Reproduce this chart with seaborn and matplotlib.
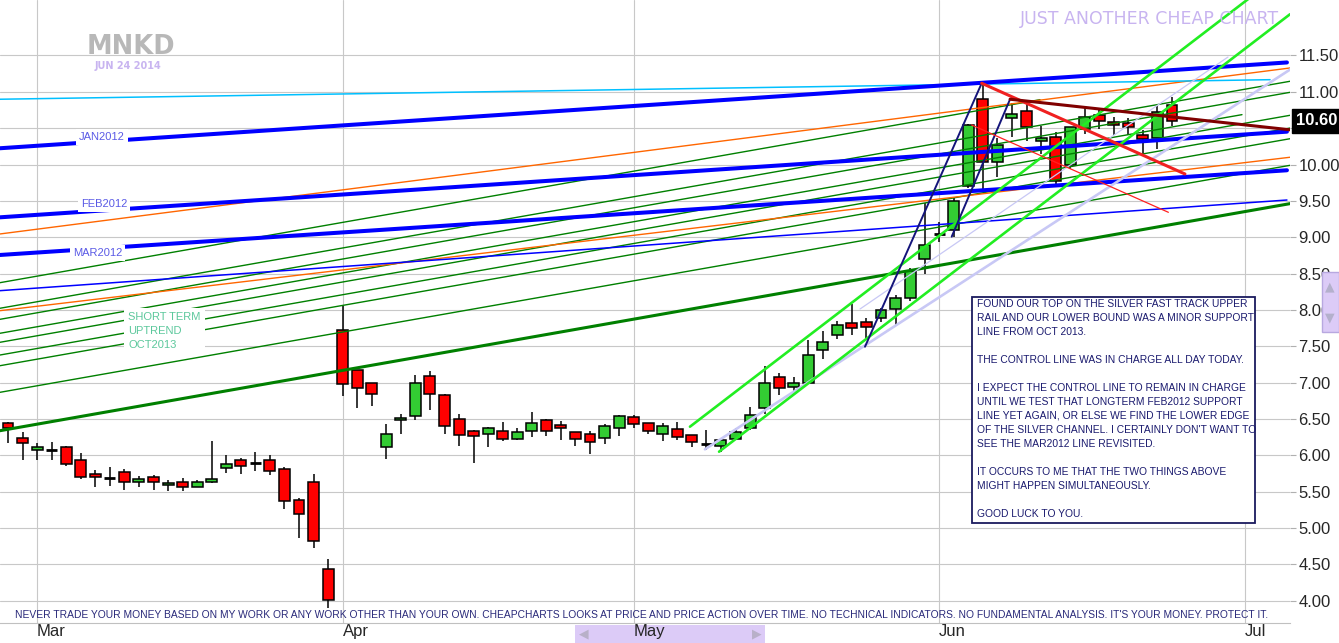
import numpy as np
import matplotlib
matplotlib.use('Agg')
import matplotlib.pyplot as plt
import seaborn as sns
from matplotlib.patches import Rectangle

# MNKD daily candles, trading days 27 Feb 2014 .. 24 Jun 2014 (index 0..80)
opens = [6.44, 6.24, 6.08, 6.08, 6.11, 5.93, 5.75, 5.69, 5.77, 5.64,
         5.70, 5.59, 5.64, 5.57, 5.64, 5.82, 5.93, 5.90, 5.93, 5.81,
         5.38, 5.63, 4.43, 7.73, 7.18, 6.99, 6.11, 6.49, 6.54, 7.09,
         6.83, 6.50, 6.33, 6.29, 6.33, 6.23, 6.33, 6.48, 6.42, 6.32,
         6.29, 6.24, 6.37, 6.53, 6.45, 6.30, 6.36, 6.28, 6.16, 6.13,
         6.23, 6.37, 6.65, 7.08, 6.94, 7.00, 7.45, 7.66, 7.82, 7.84,
         7.89, 8.01, 8.16, 8.70, 9.04, 9.10, 9.70, 10.90, 10.04, 10.64,
         10.73, 10.33, 10.38, 10.00, 10.49, 10.68, 10.58, 10.57, 10.40, 10.36,
         10.82]
highs = [6.46, 6.32, 6.17, 6.18, 6.13, 6.03, 5.80, 5.84, 5.81, 5.72,
         5.73, 5.66, 5.69, 5.66, 6.20, 6.01, 5.96, 6.05, 6.00, 5.84,
         5.42, 5.74, 4.58, 8.06, 7.18, 7.00, 6.43, 6.57, 7.10, 7.16,
         6.85, 6.57, 6.35, 6.39, 6.46, 6.38, 6.60, 6.50, 6.47, 6.32,
         6.33, 6.43, 6.56, 6.56, 6.45, 6.44, 6.46, 6.28, 6.35, 6.23,
         6.37, 6.66, 7.23, 7.13, 7.08, 7.58, 7.71, 7.85, 8.08, 7.89,
         8.03, 8.20, 8.58, 9.47, 9.21, 9.54, 10.56, 11.12, 10.36, 10.84,
         10.84, 10.53, 10.45, 10.51, 10.79, 10.75, 10.66, 10.64, 10.47, 10.80,
         10.93]
lows = [6.17, 5.93, 5.93, 5.94, 5.86, 5.67, 5.57, 5.58, 5.53, 5.56,
        5.53, 5.51, 5.51, 5.56, 5.62, 5.76, 5.75, 5.79, 5.73, 5.26,
        4.86, 4.73, 3.90, 6.82, 6.65, 6.68, 5.95, 6.29, 6.49, 6.62,
        6.30, 6.13, 5.90, 6.11, 6.20, 6.21, 6.25, 6.27, 6.21, 6.13,
        6.02, 6.15, 6.26, 6.37, 6.29, 6.20, 6.21, 6.11, 6.07, 6.05,
        6.21, 6.35, 6.57, 6.83, 6.88, 7.00, 7.32, 7.60, 7.66, 7.62,
        7.83, 7.78, 8.12, 8.50, 8.93, 9.01, 9.68, 9.67, 9.83, 10.38,
        10.33, 10.15, 9.72, 9.94, 10.42, 10.49, 10.41, 10.41, 10.15, 10.22,
        10.53]
closes = [6.37, 6.17, 6.12, 6.08, 5.88, 5.70, 5.70, 5.69, 5.64, 5.68,
          5.64, 5.62, 5.57, 5.64, 5.68, 5.88, 5.86, 5.90, 5.79, 5.37,
          5.19, 4.82, 4.01, 6.98, 6.92, 6.85, 6.30, 6.52, 6.99, 6.84,
          6.40, 6.28, 6.26, 6.37, 6.23, 6.32, 6.44, 6.34, 6.38, 6.22,
          6.19, 6.40, 6.54, 6.43, 6.34, 6.40, 6.25, 6.19, 6.16, 6.21,
          6.32, 6.56, 7.00, 6.92, 7.00, 7.38, 7.56, 7.79, 7.75, 7.76,
          8.00, 8.16, 8.54, 8.89, 9.04, 9.50, 10.54, 10.03, 10.27, 10.69,
          10.52, 10.36, 9.77, 10.51, 10.65, 10.60, 10.54, 10.51, 10.35, 10.72,
          10.60]
last_close = 10.60

month_labels = ['Mar', 'Apr', 'May', 'Jun', 'Jul']
month_pos = [2, 23, 43, 64, 85]
price_ticks = [4.0, 4.5, 5.0, 5.5, 6.0, 6.5, 7.0, 7.5, 8.0, 8.5, 9.0, 9.5, 10.0, 10.5, 11.0, 11.5]

# trend lines: (start index, start price, end index, end price)
long_term_blue = [(-0.55, 10.224, 87.90, 11.404),   # JAN2012
                  (-0.55, 9.274, 87.90, 10.452),    # FEB2012
                  (-0.55, 8.756, 87.90, 9.921)]     # MAR2012
thin_blue = [(-0.55, 8.265, 87.90, 9.512)]
cyan_line = [(-0.55, 10.898, 86.74, 11.167)]
orange_lines = [(-0.55, 9.045, 88.11, 11.328),
                (-0.55, 7.990, 88.11, 10.100)]
oct2013_uptrend = [(-0.55, 6.339, 88.25, 9.467)]
green_fan = [(-0.55, 8.375, 70.93, 10.892),
             (-0.55, 8.023, 88.11, 11.145),
             (-0.55, 7.871, 88.11, 10.993),
             (-0.55, 7.679, 84.81, 10.686),
             (-0.55, 7.555, 88.11, 10.677),
             (-0.55, 7.380, 88.11, 10.502),
             (-0.55, 7.233, 88.11, 10.355),
             (-0.55, 6.867, 88.11, 9.989)]
silver_channel = [(46.87, 6.394, 85.36, 12.295),
                  (48.87, 6.050, 88.11, 12.067)]
lavender_thick = [(47.90, 6.083, 88.25, 11.324)]
lavender_thin = [(58.56, 8.013, 83.85, 11.479)]
fast_track = [(58.90, 7.494, 66.92, 11.118),
              (64.86, 9.008, 68.87, 10.898)]
red_thick = [(66.92, 11.118, 80.89, 9.870)]
red_thin = [(66.23, 10.544, 79.75, 9.343)]
control_line = [(68.87, 10.898, 88.23, 10.475)]

comment_lines = [
    "FOUND OUR TOP ON THE SILVER FAST TRACK UPPER",
    "RAIL AND OUR LOWER BOUND WAS A MINOR SUPPORT",
    "LINE FROM OCT 2013.",
    "",
    "THE CONTROL LINE WAS IN CHARGE ALL DAY TODAY.",
    "",
    "I EXPECT THE CONTROL LINE TO REMAIN IN CHARGE",
    "UNTIL WE TEST THAT LONGTERM FEB2012 SUPPORT",
    "LINE YET AGAIN, OR ELSE WE FIND THE LOWER EDGE",
    "OF THE SILVER CHANNEL. I CERTAINLY DON'T WANT TO",
    "SEE THE MAR2012 LINE REVISITED.",
    "",
    "IT OCCURS TO ME THAT THE TWO THINGS ABOVE",
    "MIGHT HAPPEN SIMULTANEOUSLY.",
    "",
    "GOOD LUCK TO YOU.",
]
disclaimer = ("NEVER TRADE YOUR MONEY BASED ON MY WORK OR ANY WORK OTHER THAN YOUR OWN. "
              "CHEAPCHARTS LOOKS AT PRICE AND PRICE ACTION OVER TIME. NO TECHNICAL INDICATORS. "
              "NO FUNDAMENTAL ANALYSIS. IT'S YOUR MONEY. PROTECT IT.")

sns.set_style('white')
plt.rcParams['font.family'] = ['Liberation Sans Narrow', 'Liberation Sans', 'DejaVu Sans']

W, H = 1339, 643
fig = plt.figure(figsize=(W / 100, H / 100), dpi=100)
ax = fig.add_axes([0, 20 / H, 1290 / W, 623 / H])

# candles
idx = np.arange(len(opens))
o = np.array(opens)
c = np.array(closes)
up = c > o
down = c < o
flat = c == o
ax.vlines(idx, lows, highs, color='black', lw=1.1, zorder=3)
ax.bar(idx[up], (c - o)[up], bottom=o[up], width=0.75, color='#33cc33',
       edgecolor='black', linewidth=1.1, zorder=4)
ax.bar(idx[down], (o - c)[down], bottom=c[down], width=0.75, color='#ff0000',
       edgecolor='black', linewidth=1.1, zorder=4)
ax.hlines(o[flat], idx[flat] - 0.375, idx[flat] + 0.375, color='black', lw=2, zorder=4)


def draw(segments, color, lw, z=5):
    for x0, y0, x1, y1 in segments:
        sns.lineplot(x=[x0, x1], y=[y0, y1], color=color, linewidth=lw, ax=ax, zorder=z)


draw(green_fan, '#008000', 1.0)
draw(orange_lines, '#ff6600', 1.0)
draw(cyan_line, '#00c0ff', 1.1)
draw(thin_blue, '#0000ff', 1.1)
draw(long_term_blue, '#0000ff', 2.9)
draw(oct2013_uptrend, '#008000', 2.2)
draw(lavender_thick, '#c8c8f5', 1.9)
draw(lavender_thin, '#c8c8f5', 0.9)
draw(silver_channel, '#22ee22', 1.9)
draw(fast_track, '#14147a', 1.4)
draw(red_thin, '#ff2020', 0.9)
draw(red_thick, '#f02020', 2.2)
draw(control_line, '#800000', 2.2)

# line labels
lab = dict(color='#5a5ae6', fontsize=8, va='center', ha='left', zorder=10,
           bbox=dict(facecolor='white', edgecolor='none', pad=2))
ax.text(4.88, 10.379, 'JAN2012', **lab)
ax.text(5.02, 9.457, 'FEB2012', **lab)
ax.text(4.47, 8.783, 'MAR2012', **lab)
ax.text(8.25, 7.711, 'SHORT TERM\nUPTREND\nOCT2013', color='#5cc89c', fontsize=8,
        va='center', ha='left', linespacing=1.45, zorder=10,
        bbox=dict(facecolor='white', edgecolor='none', pad=3))

ax.set_xlim(-0.55, 88.11)
ax.set_ylim(3.694, 12.263)
ax.set_xticks(month_pos)
ax.set_xticklabels(month_labels, ha='left')
ax.set_yticks(price_ticks)
ax.set_yticklabels([f'{v:.2f}' for v in price_ticks])
ax.yaxis.tick_right()
ax.tick_params(axis='x', length=0, pad=1, labelsize=12)
ax.tick_params(axis='y', length=4, width=0.8, color='#b0b0b0', pad=2, labelsize=12)
for lbl in ax.get_yticklabels():
    lbl.set_family(['Liberation Sans', 'DejaVu Sans'])
ax.grid(True, color='#c8c8c8', lw=0.8)
ax.set_axisbelow(True)
ax.set_xlabel('')
ax.set_ylabel('')
for s in ['top', 'left', 'right']:
    ax.spines[s].set_visible(False)
ax.spines['bottom'].set_color('#c0c0c0')

# last price marker
ax.text(1.0 + 6 / 1290, last_close, f'{last_close:.2f}', transform=ax.get_yaxis_transform(),
        color='white', fontsize=12, fontweight='bold', va='center', ha='left',
        family=['Liberation Sans', 'DejaVu Sans'], zorder=20, clip_on=False,
        bbox=dict(facecolor='black', edgecolor='black', pad=3))

# commentary box
def ay(py):
    return (623 - py) / 623

ax.add_patch(Rectangle((972 / 1290, ay(523)), 283 / 1290, ay(297) - ay(523),
                       transform=ax.transAxes, facecolor='white', edgecolor='#1a1a5e',
                       lw=1.3, zorder=12))
box_texts = []
for k, line in enumerate(comment_lines):
    t = ax.text(977 / 1290, ay(304 + 14 * k), line, transform=ax.transAxes,
                color='#1a1a6e', fontsize=8, va='center', ha='left', zorder=13)
    box_texts.append(t)

disc = ax.text(15 / 1290, ay(615), disclaimer, transform=ax.transAxes, color='#2a2a7a',
               fontsize=8, va='center', ha='left', zorder=13)

title = fig.text(1020 / W, 1 - 19 / H, 'JUST ANOTHER CHEAP CHART', color='#c8b4f0',
                 fontsize=12, ha='left', va='center', family=['DejaVu Sans'])
mnkd = fig.text(131 / W, 1 - 47 / H, 'MNKD', color='#b8b8b8', fontsize=22,
                fontweight='bold', ha='center', va='center', family=['DejaVu Sans'])
fig.text(128 / W, 1 - 66 / H, 'JUN 24 2014', color='#c8b4f0', fontsize=7,
         fontweight='bold', ha='center', va='center', family=['DejaVu Sans'])

# scroll widgets
fig.patches.append(Rectangle((575 / W, 0), 190 / W, 18 / H, transform=fig.transFigure,
                             facecolor='#dccbf7', edgecolor='none', zorder=-1))
fig.text(584 / W, 9 / H, '\u25c0', color='#b8b0c8', fontsize=9, ha='center', va='center',
         family=['DejaVu Sans'])
fig.text(757 / W, 9 / H, '\u25b6', color='#b8b0c8', fontsize=9, ha='center', va='center',
         family=['DejaVu Sans'])
fig.patches.append(Rectangle((1322 / W, 1 - 332 / H), 17 / W, 60 / H, transform=fig.transFigure,
                             facecolor='#dccbf7', edgecolor='#b8a8e0', zorder=5))
fig.text(1330 / W, 1 - 287 / H, '\u25b2', color='#b4b0cc', fontsize=9, ha='center',
         va='center', family=['DejaVu Sans'], zorder=6)
fig.text(1330 / W, 1 - 318 / H, '\u25bc', color='#b4b0cc', fontsize=9, ha='center',
         va='center', family=['DejaVu Sans'], zorder=6)

# fit text widths to the layout
fig.canvas.draw()
r = fig.canvas.get_renderer()


def fit(t, target):
    w = t.get_window_extent(r).width
    t.set_fontsize(t.get_fontsize() * target / w)


fit(disc, 1247)
longest = max(box_texts, key=lambda t: t.get_window_extent(r).width)
scale = 276 / longest.get_window_extent(r).width
for t in box_texts:
    t.set_fontsize(t.get_fontsize() * scale)
fit(title, 257)
fit(mnkd, 88)

fig.savefig('out.png', dpi=100)
